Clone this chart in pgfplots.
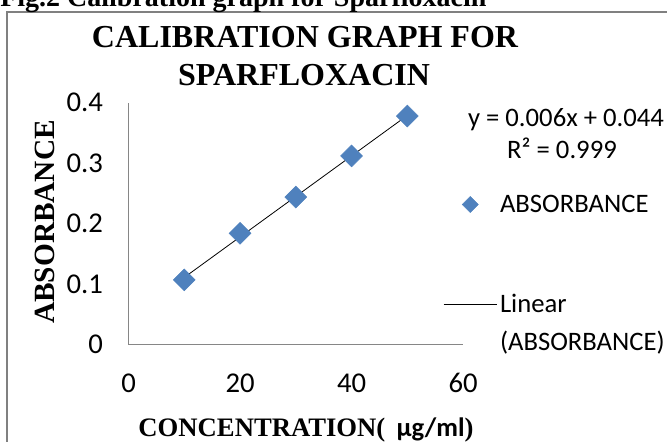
\documentclass[border=0pt]{standalone}
\usepackage{fontspec}
\setmainfont{Liberation Serif}
\newfontfamily\calibri{Carlito}
\usepackage{pgfplots}
\pgfplotsset{compat=1.18}
\definecolor{xlblue}{RGB}{79,129,189}
\definecolor{xlgray}{RGB}{134,134,134}
\definecolor{framegray}{RGB}{128,128,128}

\begin{document}
\begin{tikzpicture}[x=0.75pt,y=-0.75pt]
  % page = 667 x 442 px, 1px = 0.75pt
  \path[use as bounding box] (0,0) rectangle (667,442);
  \clip (0,0) rectangle (667,442);
  \draw[framegray, line width=1.5pt] (7,12) rectangle (720,480);
  \node[anchor=base west, inner sep=0pt, font=\bfseries\fontsize{21}{21}\selectfont]
    at (0,7) {Fig.2 Calibration graph for Sparfloxacin};

  \begin{axis}[
    at={(96.4pt,-258.4pt)}, anchor=south west,
    width=250.9pt, height=181.35pt, scale only axis,
    xmin=0, xmax=60, ymin=0, ymax=0.4,
    xtick={0,20,40,60}, ytick={0,0.1,0.2,0.3,0.4},
    axis x line*=bottom, axis y line*=left,
    axis line style={xlgray, line width=0.75pt, -},
    tick style={draw=none},
    tick label style={font=\calibri\fontsize{21.5}{21.5}\selectfont,
      /pgf/number format/assume math mode=true},
    yticklabel style={/pgf/number format/fixed, anchor=east, inner sep=0pt, xshift=-19pt},
    xticklabel style={anchor=north, inner sep=0pt, yshift=-21.5pt},
    clip=false,
    legend style={draw=none, fill=none, at={(0.928,0.641)}, anchor=north west,
      font=\calibri\fontsize{20}{28.5}\selectfont, row sep=55.5pt,
      cells={anchor=base west, align=left}},
  ]
    \addplot[only marks, mark=square*, mark size=5.8pt,
      mark options={rotate=45, fill=xlblue, draw=xlblue},
      legend image code/.code={
        \fill[xlblue] (20pt,12pt) -- (26pt,6pt) -- (20pt,0pt) -- (14pt,6pt) -- cycle;}]
      coordinates {(10,0.107) (20,0.184) (30,0.244) (40,0.312) (50,0.378)};
    \addlegendentry{ABSORBANCE}
    \addplot[black, line width=0.6pt, no marks,
      legend image code/.code={\draw[black, line width=0.6pt] (0pt,34.5pt) -- (40pt,34.5pt);}]
      coordinates {(10,0.111) (50,0.379)};
    \addlegendentry{Linear\\(ABSORBANCE)}
  \end{axis}

  \node[font=\bfseries\fontsize{24}{24}\selectfont] at (305,37) {CALIBRATION GRAPH FOR};
  \node[font=\bfseries\fontsize{24}{24}\selectfont] at (304,75) {SPARFLOXACIN};
  \node[rotate=90, font=\bfseries\fontsize{22}{22}\selectfont] at (45,222) {ABSORBANCE};
  \node[font=\bfseries\fontsize{20}{20}\selectfont] at (306,430)
    {CONCENTRATION(\, {\calibri µg/ml})};
  \node[font=\calibri\fontsize{20}{20}\selectfont] at (566,120) {y = 0.006x + 0.044};
  \node[font=\calibri\fontsize{20}{20}\selectfont] at (562,148) {R² = 0.999};
\end{tikzpicture}
\end{document}
